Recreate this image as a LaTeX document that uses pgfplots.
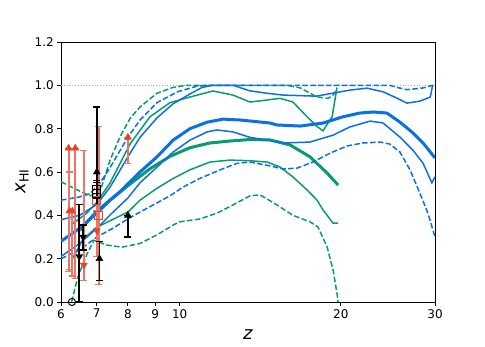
\documentclass[border=0pt]{standalone}
\usepackage{fontspec}
\setmainfont{DejaVu Sans}
\usepackage{pgfplots}
\pgfplotsset{compat=1.18}

\definecolor{cblue}{HTML}{0B6FE8}
\definecolor{cgreen}{HTML}{079C6C}
\definecolor{cred}{HTML}{E5432C}
\definecolor{cbar}{HTML}{EC7566}

\pgfplotsset{
  redbar/.style={only marks, mark size=4pt,
    error bars/y dir=both, error bars/y explicit,
    error bars/error bar style={cbar, line width=1.8pt},
    error bars/error mark options={rotate=90, mark size=3.4pt, cbar, line width=1.2pt}},
  blackbar/.style={only marks, mark size=4pt,
    error bars/y dir=both, error bars/y explicit,
    error bars/error bar style={black, line width=1.5pt},
    error bars/error mark options={rotate=90, mark size=3.4pt, black, line width=1.2pt}},
}

\begin{document}
\begin{tikzpicture}
\path[use as bounding box] (-61pt,-44pt) rectangle (424pt,302pt);
\begin{axis}[
    at={(0pt,0pt)}, anchor=south west,
    scale only axis, width=374pt, height=260pt,
    xmode=log, xmin=6, xmax=30, ymin=0, ymax=1.2,
    xtick={6,7,8,9,10,20,30}, xticklabels={6,7,8,9,10,20,30},
    minor xtick={},
    ytick={0,0.2,0.4,0.6,0.8,1.0,1.2},
    yticklabel style={/pgf/number format/.cd, fixed, fixed zerofill, precision=1},
    /pgf/number format/assume math mode=true,
    tick label style={font=\fontsize{12}{14}\selectfont},
    tick align=outside, tick pos=left,
    major tick length=3.7pt,
    axis line style={line width=0.85pt},
    every tick/.style={line width=0.85pt, black},
    xlabel={\textit{z}},
    ylabel={\textit{x}\textsubscript{HI}},
    label style={font=\fontsize{18}{20}\selectfont},
    xlabel style={at={(axis description cs:0.5,-0.125)}, anchor=center},
    ylabel style={at={(axis description cs:-0.104,0.465)}, anchor=center},
    thin1/.style={line width=1.5pt},
    thick1/.style={line width=3pt},
    dsh/.style={dash pattern=on 5.5pt off 2.4pt},
]
% reference level
\addplot[gray!70, dotted, line width=0.8pt] coordinates {(6,1) (30,1)};

% green models
\addplot[cgreen, thin1, dsh] coordinates {
 (6.0,0.555) (6.4,0.52) (6.8,0.49) (7.1,0.51) (7.41,0.655) (7.74,0.763)
 (8.08,0.848) (8.43,0.90) (9.06,0.963) (9.73,0.991) (10.3,1.0) (15.9,1.0)
 (16.8,0.988) (18.06,0.946) (18.94,0.94) (19.35,0.955) (19.6,0.975)
};
\addplot[cgreen, thin1, dsh] coordinates {
 (6.28,0.0) (6.45,0.115) (6.72,0.225) (6.92,0.285) (7.3,0.263) (7.8,0.253)
 (8.43,0.27) (9.07,0.31) (9.72,0.355) (10.0,0.37) (10.9,0.383) (11.74,0.41)
 (12.58,0.448) (13.53,0.49) (14.13,0.494) (14.3,0.487) (15.2,0.448)
 (16.28,0.40) (17.52,0.37) (18.14,0.346) (18.86,0.254) (19.35,0.148)
 (19.68,0.04) (19.77,0.0)
};
\addplot[cgreen, thin1] coordinates {
 (6.3,0.36) (6.7,0.41) (7.0,0.46) (7.41,0.55) (8.08,0.73) (8.80,0.855)
 (9.59,0.92) (10.45,0.946) (11.54,0.974) (12.58,0.955) (13.53,0.923)
 (14.3,0.93) (15.4,0.94) (16.28,0.923) (17.3,0.855) (18.06,0.81)
 (18.53,0.79) (19.27,0.855) (19.68,0.99)
};
\addplot[cgreen, thin1] coordinates {
 (6.3,0.2) (6.6,0.29) (7.0,0.345) (7.41,0.375) (8.0,0.415) (8.43,0.47)
 (9.07,0.525) (9.72,0.57) (10.45,0.61) (11.39,0.646) (12.42,0.655)
 (13.53,0.652) (14.56,0.646) (15.4,0.623) (16.28,0.577) (17.3,0.517)
 (18.06,0.47) (18.53,0.425) (19.35,0.364) (19.77,0.364)
};
\addplot[cgreen, thick1] coordinates {
 (6.5,0.33) (7.0,0.42) (7.41,0.47) (8.08,0.545) (8.80,0.615) (9.59,0.672)
 (10.45,0.712) (11.39,0.734) (12.42,0.743) (13.53,0.75) (14.75,0.748)
 (16.08,0.725) (17.52,0.67) (18.86,0.595) (19.77,0.54)
};

% blue models
\addplot[cblue, thin1, dsh] coordinates {
 (6.0,0.47) (6.5,0.485) (6.8,0.50) (7.1,0.55) (7.41,0.62) (7.74,0.70)
 (8.0,0.76) (8.43,0.84) (9.07,0.92) (9.9,0.97) (10.8,0.997) (11.5,1.0)
 (24.7,1.0) (25.5,0.99) (26.6,0.98) (28.5,0.988) (29.7,1.0) (30,1.0)
};
\addplot[cblue, thin1, dsh] coordinates {
 (6.0,0.20) (6.5,0.24) (7.0,0.30) (7.5,0.34) (8.08,0.39) (8.80,0.44)
 (9.59,0.49) (10.14,0.53) (10.9,0.57) (11.9,0.61) (12.8,0.64) (13.53,0.646)
 (14.75,0.628) (15.6,0.614) (16.57,0.618) (17.75,0.646) (19.1,0.687)
 (20.55,0.72) (22.0,0.734) (23.7,0.738) (24.7,0.729) (25.8,0.692)
 (26.95,0.609) (28.1,0.503) (29.1,0.41) (30,0.30)
};
\addplot[cblue, thin1] coordinates {
 (6.0,0.38) (6.5,0.40) (7.0,0.45) (7.41,0.53) (8.0,0.67) (8.43,0.76)
 (9.07,0.85) (9.72,0.915) (10.45,0.96) (11.0,0.99) (11.5,1.0) (12.6,1.0)
 (13.5,0.975) (14.5,0.964) (15.6,0.955) (18.0,0.95) (19.35,0.964)
 (20.8,0.978) (22.4,0.987) (24.0,0.97) (25.5,0.94) (26.6,0.918)
 (28.1,0.927) (29.4,0.946) (29.7,1.0)
};
\addplot[cblue, thin1] coordinates {
 (6.0,0.21) (6.5,0.27) (7.0,0.34) (7.4,0.40) (8.0,0.48) (8.43,0.55)
 (9.07,0.623) (9.72,0.692) (10.45,0.747) (11.25,0.785) (11.74,0.794)
 (12.58,0.785) (13.53,0.76) (14.75,0.745) (15.6,0.734) (17.5,0.738)
 (19.35,0.77) (20.8,0.808) (22.7,0.835) (24.0,0.826) (25.8,0.761)
 (27.3,0.70) (28.5,0.64) (29.6,0.55) (30,0.577)
};
\addplot[cblue, thick1] coordinates {
 (6.0,0.28) (6.5,0.34) (7.0,0.41) (7.41,0.47) (7.74,0.51) (8.43,0.60)
 (9.07,0.67) (9.72,0.747) (10.45,0.80) (11.25,0.83) (12.05,0.844)
 (12.97,0.84) (14.75,0.826) (15.2,0.817) (16.8,0.812) (18.53,0.826)
 (20.2,0.855) (21.7,0.872) (23.0,0.877) (24.4,0.872) (25.8,0.83)
 (27.3,0.78) (28.5,0.734) (30,0.665)
};

% observational constraints: red
\addplot[redbar, mark=triangle*, mark options={cred, fill=cred}] coordinates {
 (6.2,0.71) += (0,0) -= (0,0.57)
 (6.38,0.71) += (0,0) -= (0,0.60)
 (6.22,0.42) += (0,0.18) -= (0,0.27)
 (6.3,0.42) += (0,0) -= (0,0.30)
 (8.0,0.76) += (0,0) -= (0,0.12)
};
\addplot[redbar, mark=triangle*, mark options={rotate=180, cred, fill=cred}] coordinates {
 (6.62,0.17) += (0,0.53) -= (0,0.07)
 (7.0,0.33) += (0,0.22) -= (0,0.12)
};
\addplot[redbar, mark=square, mark options={cred, line width=1pt}] coordinates {
 (7.06,0.40) += (0,0.41) -= (0,0.32)
 (7.0,0.47) += (0,0.05) -= (0,0.05)
};

% observational constraints: black
\addplot[blackbar, mark=triangle*, mark options={black, fill=black}] coordinates {
 (7.0,0.60) += (0,0.30) -= (0,0.05)
 (7.08,0.20) += (0,0.08) -= (0,0.10)
 (8.0,0.40) += (0,0) -= (0,0.10)
};
\addplot[blackbar, mark=triangle*, mark options={rotate=180, black, fill=black}] coordinates {
 (6.49,0.21) += (0,0.24) -= (0,0.21)
 (6.6,0.30) += (0,0.055) -= (0,0.06)
};
\addplot[blackbar, mark=square, mark options={black, line width=1pt}] coordinates {
 (7.0,0.50) += (0,0.05) -= (0,0.05)
 (7.0,0.52) += (0,0.04) -= (0,0.04)
};
\addplot[only marks, mark=o, mark size=3.6pt, mark options={black, line width=1pt}] coordinates {
 (6.29,0.0)
};
\end{axis}
\end{tikzpicture}
\end{document}
